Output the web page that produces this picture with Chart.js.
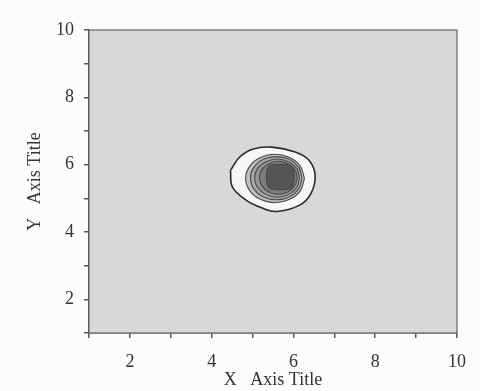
<!DOCTYPE html>
<html>
<head>
<meta charset="utf-8">
<script src="https://cdn.jsdelivr.net/npm/chart.js@4.4.1/dist/chart.umd.min.js"></script>
<style>
  html, body { margin: 0; padding: 0; background: #fcfcfc; }
  #wrap { width: 480px; height: 391px; }
</style>
</head>
<body>
<div id="wrap"><canvas id="chart"></canvas></div>
<script>
// contour rings, outer to inner (x, y in data units)
const outerRing = [
  {x: 4.46, y: 5.83}, {x: 4.68, y: 6.22}, {x: 5.00, y: 6.46}, {x: 5.48, y: 6.52},
  {x: 6.06, y: 6.37}, {x: 6.38, y: 6.13}, {x: 6.53, y: 5.69}, {x: 6.43, y: 5.15},
  {x: 6.14, y: 4.79}, {x: 5.58, y: 4.61}, {x: 5.24, y: 4.71}, {x: 4.85, y: 4.94},
  {x: 4.51, y: 5.33}, {x: 4.46, y: 5.83}
];
const ring2 = [
  {x: 6.27, y: 5.59}, {x: 6.17, y: 5.95}, {x: 5.91, y: 6.21}, {x: 5.55, y: 6.31},
  {x: 5.19, y: 6.21}, {x: 4.93, y: 5.95}, {x: 4.83, y: 5.59}, {x: 4.93, y: 5.23},
  {x: 5.19, y: 4.97}, {x: 5.55, y: 4.87}, {x: 5.91, y: 4.97}, {x: 6.17, y: 5.23},
  {x: 6.27, y: 5.59}
];
const ring3 = [
  {x: 6.21, y: 5.60}, {x: 6.13, y: 5.92}, {x: 5.90, y: 6.16}, {x: 5.58, y: 6.24},
  {x: 5.26, y: 6.16}, {x: 5.03, y: 5.92}, {x: 4.95, y: 5.60}, {x: 5.03, y: 5.28},
  {x: 5.26, y: 5.04}, {x: 5.58, y: 4.96}, {x: 5.90, y: 5.04}, {x: 6.13, y: 5.28},
  {x: 6.21, y: 5.60}
];
const ring4 = [
  {x: 6.15, y: 5.60}, {x: 6.08, y: 5.89}, {x: 5.88, y: 6.09}, {x: 5.60, y: 6.17},
  {x: 5.33, y: 6.09}, {x: 5.12, y: 5.89}, {x: 5.05, y: 5.60}, {x: 5.12, y: 5.32},
  {x: 5.33, y: 5.11}, {x: 5.60, y: 5.03}, {x: 5.88, y: 5.11}, {x: 6.08, y: 5.32},
  {x: 6.15, y: 5.60}
];
const ring5 = [
  {x: 6.10, y: 5.61}, {x: 6.03, y: 5.86}, {x: 5.86, y: 6.03}, {x: 5.63, y: 6.10},
  {x: 5.40, y: 6.03}, {x: 5.23, y: 5.86}, {x: 5.17, y: 5.61}, {x: 5.23, y: 5.37},
  {x: 5.40, y: 5.19}, {x: 5.63, y: 5.12}, {x: 5.86, y: 5.19}, {x: 6.03, y: 5.37},
  {x: 6.10, y: 5.61}
];
const core = [
  {x: 6.02, y: 5.64}, {x: 6.00, y: 5.85}, {x: 5.93, y: 5.98}, {x: 5.68, y: 6.01},
  {x: 5.43, y: 5.98}, {x: 5.36, y: 5.85}, {x: 5.34, y: 5.64}, {x: 5.36, y: 5.42},
  {x: 5.43, y: 5.29}, {x: 5.68, y: 5.26}, {x: 5.93, y: 5.29}, {x: 6.00, y: 5.42},
  {x: 6.02, y: 5.64}
];
const rings = [outerRing, ring2, ring3, ring4, ring5, core];
const ringFills = ['#f7f7f7', '#c0c0c0', '#aaaaaa', '#949494', '#7c7c7c', '#555555'];

const xTicks = [1, 2, 3, 4, 5, 6, 7, 8, 9, 10];
const yTicks = [1, 2, 3, 4, 5, 6, 7, 8, 9, 10];
const tickLabels = ['2', '4', '6', '8', '10'];

const plotBox = {
  id: 'plotBox',
  beforeDatasetsDraw(chart) {
    const {ctx, chartArea: a} = chart;
    ctx.save();
    ctx.fillStyle = '#d8d8d8';
    ctx.fillRect(a.left, a.top, a.right - a.left, a.bottom - a.top);
    ctx.restore();
  },
  afterDatasetsDraw(chart) {
    const {ctx, chartArea: a} = chart;
    ctx.save();
    ctx.strokeStyle = '#666';
    ctx.lineWidth = 1.2;
    ctx.strokeRect(a.left, a.top, a.right - a.left, a.bottom - a.top);
    ctx.restore();
  }
};

const serif = 'Liberation Serif';

new Chart(document.getElementById('chart'), {
  type: 'scatter',
  data: {
    datasets: rings.map((r, i) => ({
      data: r,
      showLine: true,
      tension: 0.4,
      fill: 'shape',
      backgroundColor: ringFills[i],
      borderColor: i === 0 ? '#2a2a2a' : '#4a4a4a',
      borderWidth: i === 0 ? 1.6 : 1.1,
      pointRadius: 0,
      order: rings.length - i
    }))
  },
  options: {
    responsive: true,
    maintainAspectRatio: false,
    animation: false,
    layout: { padding: { top: 30, right: 23, left: 0, bottom: 0 } },
    plugins: { legend: { display: false }, tooltip: { enabled: false } },
    scales: {
      x: {
        type: 'linear', min: 1, max: 10,
        afterBuildTicks: s => { s.ticks = xTicks.map(v => ({value: v})); },
        afterFit: s => { s.height = 58; },
        ticks: {
          padding: 13, color: '#333', maxRotation: 0,
          font: { family: serif, size: 18 },
          callback: v => tickLabels.includes(String(v)) ? String(v) : ''
        },
        grid: { drawOnChartArea: false, tickLength: 5, color: '#555', lineWidth: 1.5 },
        border: { color: '#555', width: 1.5 },
        title: {
          display: true, text: 'X   Axis Title', color: '#333',
          font: { family: serif, size: 18 }, padding: { top: 0, bottom: 0 }
        }
      },
      y: {
        type: 'linear', min: 1, max: 10,
        afterBuildTicks: s => { s.ticks = yTicks.map(v => ({value: v})); },
        afterFit: s => { s.width = 89; },
        ticks: {
          padding: 10, color: '#333',
          font: { family: serif, size: 18 },
          callback: v => tickLabels.includes(String(v)) ? String(v) : ''
        },
        grid: { drawOnChartArea: false, tickLength: 5, color: '#555', lineWidth: 1.5 },
        border: { color: '#555', width: 1.5 },
        title: {
          display: true, text: 'Y   Axis Title', color: '#333',
          font: { family: serif, size: 18 }, padding: { top: 24, bottom: 0 }
        }
      }
    }
  },
  plugins: [plotBox]
});
</script>
</body>
</html>
